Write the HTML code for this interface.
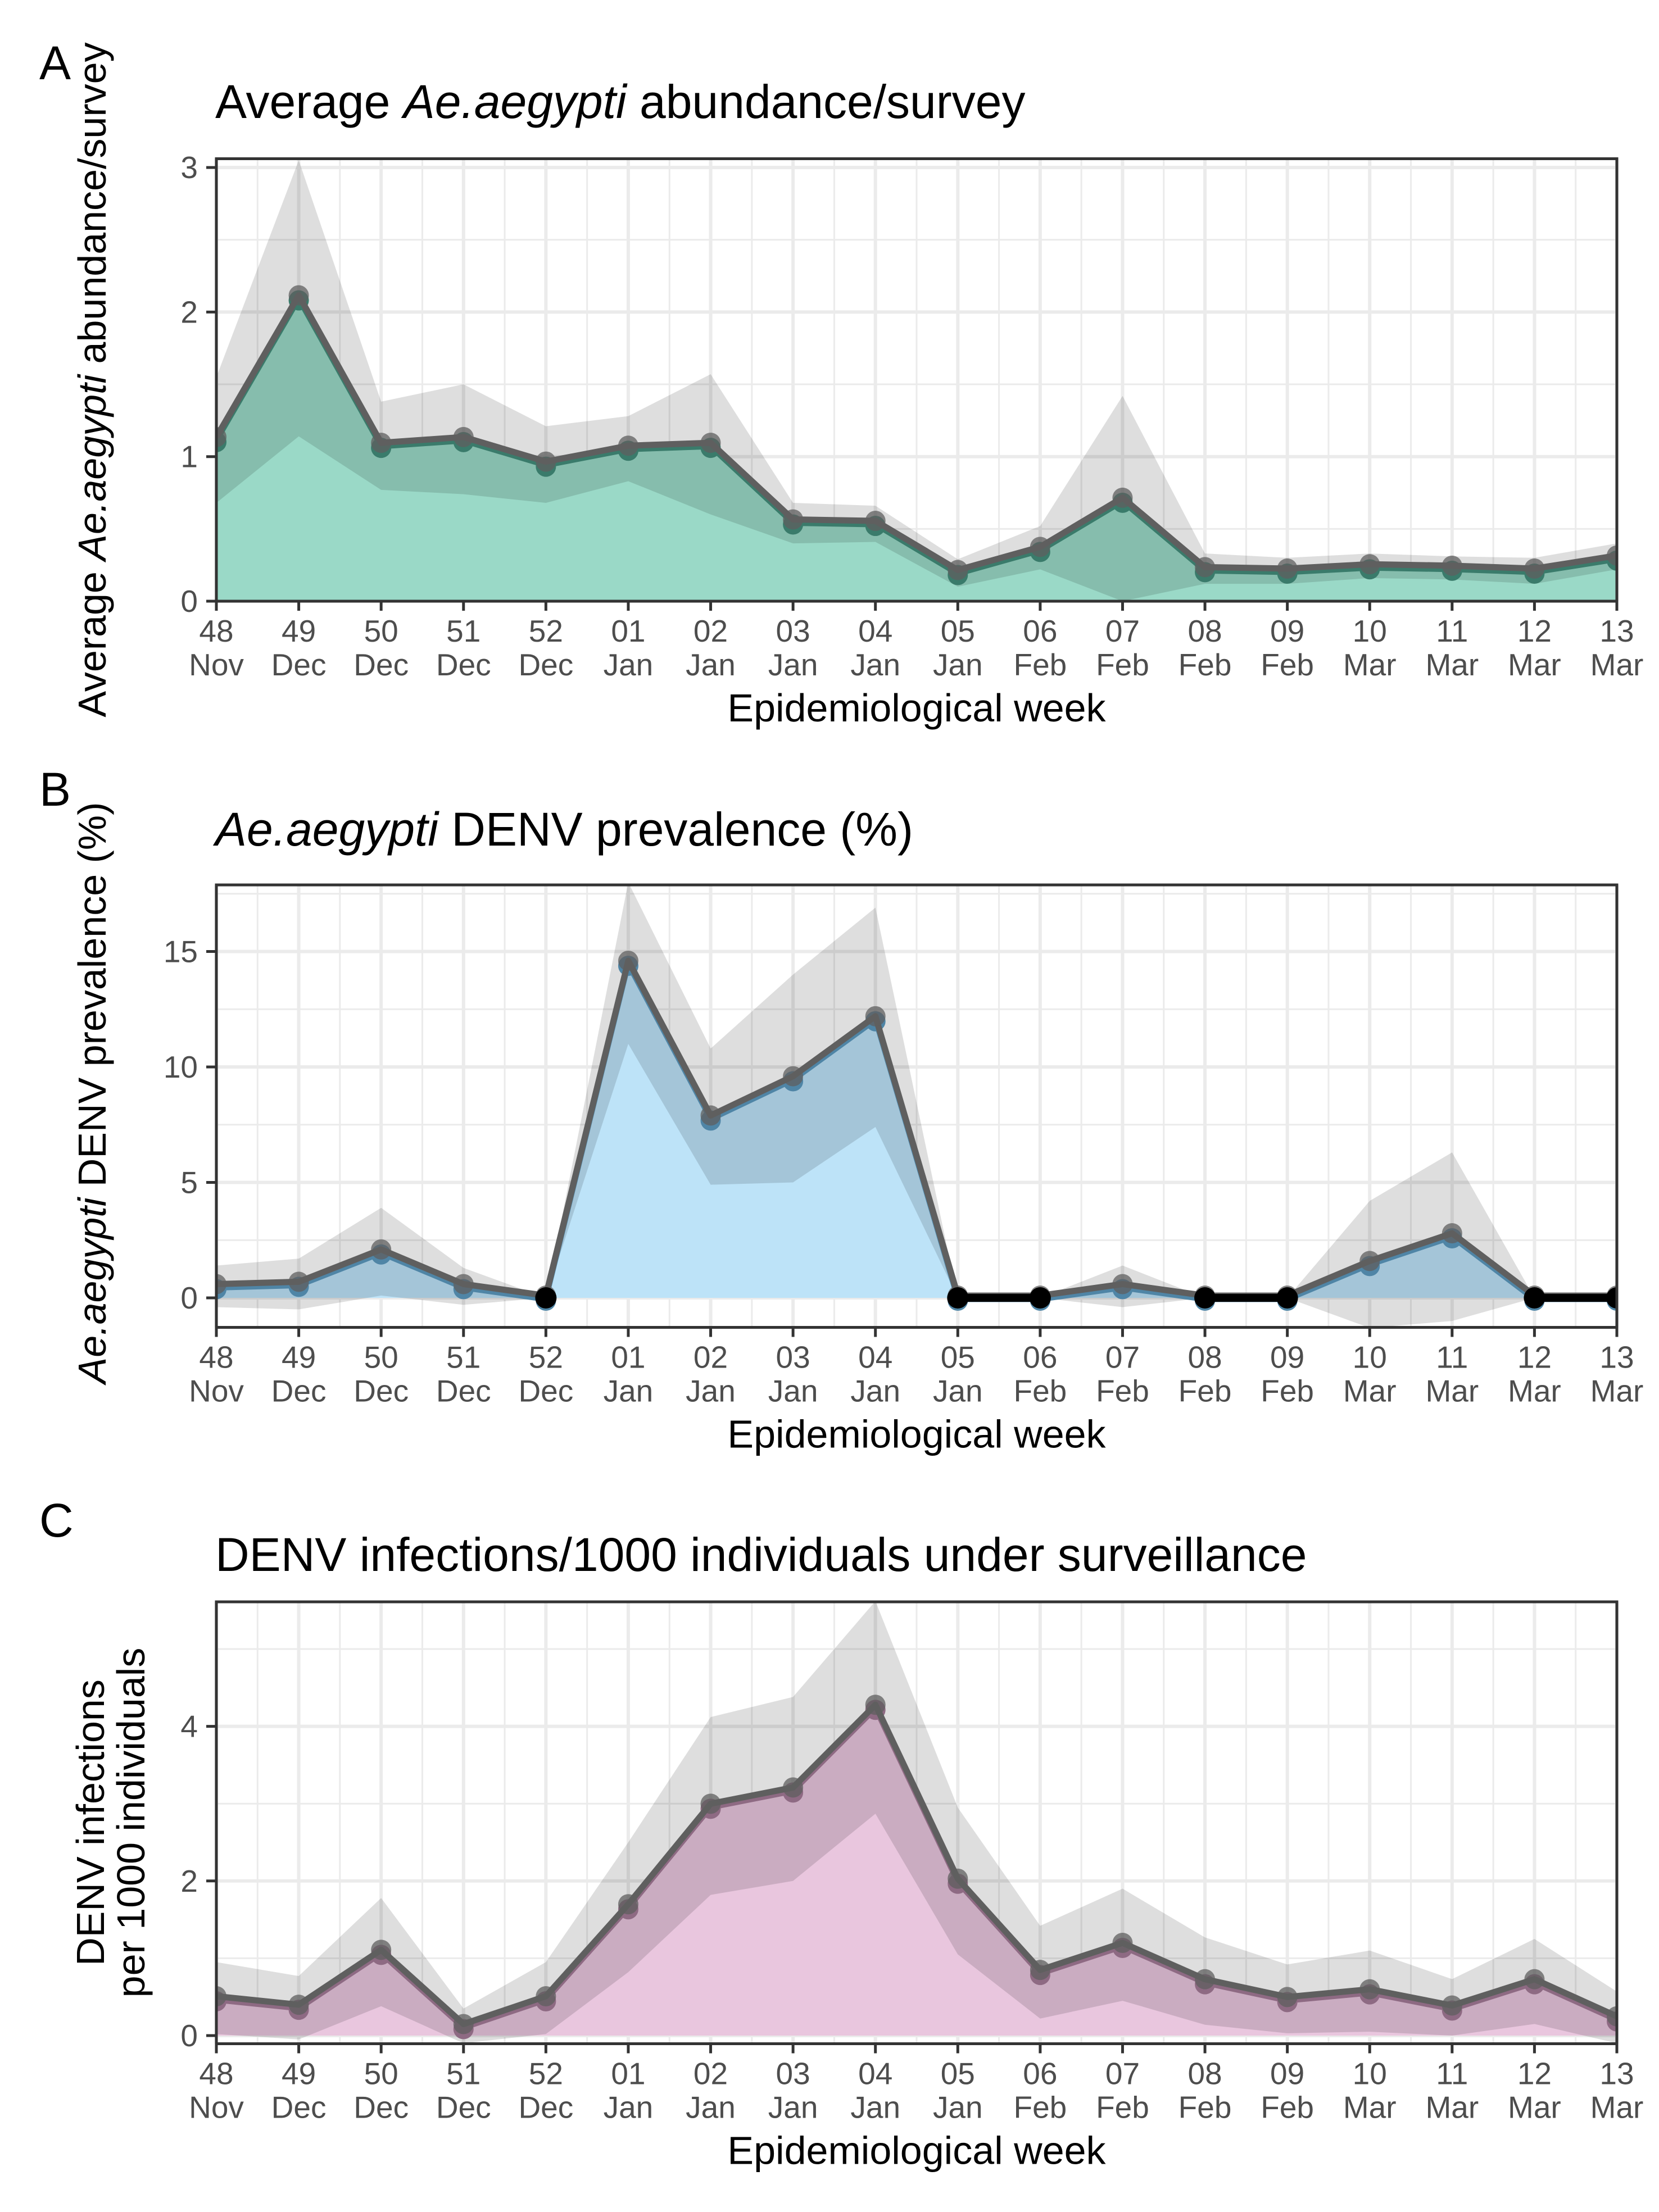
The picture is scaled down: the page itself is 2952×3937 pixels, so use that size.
<!DOCTYPE html>
<html><head><meta charset="utf-8"><style>
html,body{margin:0;padding:0;background:#fff}
svg{display:block}
text{font-family:"Liberation Sans",Arial,sans-serif}
</style></head><body>
<svg id="fig" xmlns="http://www.w3.org/2000/svg" width="2952" height="3937" viewBox="0 0 2952 3937"></svg>
<script>
const weeks = ["48","49","50","51","52","01","02","03","04","05","06","07","08","09","10","11","12","13"];
const months = ["Nov","Dec","Dec","Dec","Dec","Jan","Jan","Jan","Jan","Jan","Feb","Feb","Feb","Feb","Mar","Mar","Mar","Mar"];

const aVals  = [1.12,2.10,1.08,1.12,0.95,1.06,1.08,0.55,0.54,0.20,0.36,0.70,0.22,0.21,0.24,0.23,0.21,0.30];
const aUpper = [1.55,3.05,1.38,1.50,1.21,1.28,1.57,0.68,0.66,0.29,0.52,1.42,0.33,0.30,0.33,0.31,0.30,0.40];
const aLower = [0.68,1.14,0.77,0.74,0.68,0.83,0.60,0.40,0.41,0.10,0.22,0.00,0.12,0.12,0.16,0.15,0.12,0.22];
const aTicks = [0,1,2,3];

const bVals  = [0.5,0.6,2.0,0.5,0,14.5,7.8,9.5,12.1,0,0,0.5,0,0,1.5,2.7,0,0];
const bUpper = [1.4,1.7,3.9,1.3,0,18.0,10.8,14.0,16.9,0,0,1.4,0,0,4.2,6.3,0,0];
const bLower = [-0.4,-0.5,0.1,-0.3,0,11.0,4.9,5.0,7.4,0,0,-0.4,0,0,-1.3,-1.0,0,0];
const bTicks = [0,5,10,15];

const cVals  = [0.48,0.37,1.08,0.12,0.48,1.67,2.97,3.18,4.25,2.0,0.82,1.17,0.70,0.47,0.57,0.36,0.70,0.22];
const cUpper = [0.95,0.77,1.78,0.35,0.95,2.5,4.12,4.38,5.62,2.95,1.42,1.90,1.27,0.92,1.10,0.73,1.25,0.57];
const cLower = [0.02,-0.05,0.38,-0.10,0.02,0.82,1.82,2.0,2.87,1.05,0.22,0.45,0.14,0.03,0.05,0.0,0.15,-0.1];
const cTicks = [0,2,4];

const NS="http://www.w3.org/2000/svg";
const svg=document.getElementById('fig');
function mk(tag,attrs,parent){const e=document.createElementNS(NS,tag);for(const k in attrs)e.setAttribute(k,attrs[k]);(parent||svg).appendChild(e);return e;}
const L=385,R=2877;
const xS=i=>L+i*(R-L)/(weeks.length-1);

function panel(o){
  const g=mk('g',{});
  
  
  const yS=v=>o.y0-v*o.ppu;
  const T=o.top,B=o.bottom;
  const clipId=o.name+'-clip';
  const cp=mk('clipPath',{id:clipId},g);mk('rect',{x:L,y:T,width:R-L,height:B-T},cp);
  for(let i=0;i<weeks.length-1;i++){const x=(xS(i)+xS(i+1))/2;mk('line',{x1:x,x2:x,y1:T,y2:B,stroke:'#EBEBEB','stroke-width':3},g);}
  o.minor.forEach(v=>{const y=yS(v);if(y>T&&y<B)mk('line',{x1:L,x2:R,y1:y,y2:y,stroke:'#EBEBEB','stroke-width':3},g);});
  weeks.forEach((w,i)=>{mk('line',{x1:xS(i),x2:xS(i),y1:T,y2:B,stroke:'#EBEBEB','stroke-width':6},g);});
  o.ticks.forEach(v=>{mk('line',{x1:L,x2:R,y1:yS(v),y2:yS(v),stroke:'#EBEBEB','stroke-width':6},g);});
  const dg=mk('g',{'clip-path':'url(#'+clipId+')'},g);
  let d='M'+xS(0)+','+yS(0);o.vals.forEach((v,i)=>d+=' L'+xS(i)+','+yS(v));d+=' L'+xS(o.vals.length-1)+','+yS(0)+'Z';
  const area=mk('path',{d:d,fill:o.fill},dg);
  
  
  let r='';o.upper.forEach((v,i)=>r+=(i?' L':'M')+xS(i)+','+yS(v));
  for(let i=o.lower.length-1;i>=0;i--)r+=' L'+xS(i)+','+yS(o.lower[i]);r+='Z';
  const rib=mk('path',{d:r,fill:'#000','fill-opacity':0.13},dg);
  
  
  // colored line & points (underneath, slightly lower)
  let cl='';o.vals.forEach((v,i)=>cl+=(i?' L':'M')+xS(i)+','+(yS(v)+3));
  const ln=mk('path',{d:cl,fill:'none',stroke:o.line,'stroke-width':9,'stroke-linejoin':'round'},dg);
  
  
  o.vals.forEach((v,i)=>{
    const c=mk('circle',{cx:xS(i),cy:yS(v)+5,r:18,fill:o.line},dg);
    
    
  });
  // gray line & points on top
  let gl='';o.vals.forEach((v,i)=>gl+=(i?' L':'M')+xS(i)+','+(yS(v)-4));
  mk('path',{d:gl,fill:'none',stroke:'#5f5f5f','stroke-width':11,'stroke-linejoin':'round'},dg);
  o.vals.forEach((v,i)=>{mk('circle',{cx:xS(i),cy:yS(v)-4,r:18,fill:'#5f5f5f','fill-opacity':0.75},dg);});
  if(o.zeroBlack){
    for(let i=0;i<o.vals.length-1;i++) if(o.vals[i]===0&&o.vals[i+1]===0)
      mk('line',{x1:xS(i),x2:xS(i+1),y1:yS(0),y2:yS(0),stroke:'#000','stroke-width':14},dg);
    o.vals.forEach((v,i)=>{if(v===0)mk('circle',{cx:xS(i),cy:yS(0),r:19,fill:'#000'},dg);});
  }
  mk('rect',{x:L,y:T,width:R-L,height:B-T,fill:'none',stroke:'#333','stroke-width':5},g);
  o.ticks.forEach(v=>{
    const y=yS(v);
    mk('line',{x1:367,x2:L,y1:y,y2:y,stroke:'#333','stroke-width':5},g);
    const t=mk('text',{x:352,y:y+19,'text-anchor':'end','font-size':55,fill:'#4D4D4D'},g);t.textContent=v;
    
    
  });
  weeks.forEach((w,i)=>{
    const x=xS(i);
    mk('line',{x1:x,x2:x,y1:B,y2:B+17,stroke:'#333','stroke-width':5},g);
    const t1=mk('text',{x:x,y:B+72,'text-anchor':'middle','font-size':55,fill:'#4D4D4D'},g);t1.textContent=w;
    
    
    const t2=mk('text',{x:x,y:B+132,'text-anchor':'middle','font-size':55,fill:'#4D4D4D'},g);t2.textContent=months[i];
    
    
  });
  const xt=mk('text',{x:(L+R)/2,y:B+214,'text-anchor':'middle','font-size':70,fill:'#000'},g);xt.textContent='Epidemiological week';
  
  
  const pl=mk('text',{x:70,y:o.labelY,'font-size':84,fill:'#000'},g);pl.textContent=o.letter;
  
  
  return g;
}

function styledText(parent,attrs,parts,name){
  const t=mk('text',attrs,parent);
  
  
  parts.forEach(p=>{const s=mk('tspan',p[1]?{'font-style':'italic'}:{},t);s.textContent=p[0];});
  return t;
}

panel({name:'panel-a',letter:'A',labelY:141,top:282.5,bottom:1070,y0:1070,ppu:257.3,vals:aVals,upper:aUpper,lower:aLower,ticks:aTicks,minor:[0.5,1.5,2.5],fill:'#9AD9C7',line:'#3A7B6B'});
panel({name:'panel-b',letter:'B',labelY:1434,top:1575,bottom:2362.5,y0:2310,ppu:41.1,vals:bVals,upper:bUpper,lower:bLower,ticks:bTicks,minor:[2.5,7.5,12.5,17.5],fill:'#BDE3F8',line:'#4F85A6',zeroBlack:true});
panel({name:'panel-c',letter:'C',labelY:2735,top:2851,bottom:3637.5,y0:3623,ppu:137.6,vals:cVals,upper:cUpper,lower:cLower,ticks:cTicks,minor:[1,3,5],fill:'#E9C6DE',line:'#8E6A83'});

styledText(svg,{x:383,y:210,'font-size':84,fill:'#000'},[['Average ',0],['Ae.aegypti',1],[' abundance/survey',0]],'panel-a-title');
styledText(svg,{x:383,y:1505,'font-size':84,fill:'#000'},[['Ae.aegypti',1],[' DENV prevalence (%)',0]],'panel-b-title');
styledText(svg,{x:383,y:2796,'font-size':84,fill:'#000'},[['DENV infections/1000 individuals under surveillance',0]],'panel-c-title');

styledText(svg,{x:0,y:0,'font-size':70,fill:'#000','text-anchor':'middle',transform:'translate(188,676) rotate(-90)'},[['Average ',0],['Ae.aegypti',1],[' abundance/survey',0]],'y-axis-title-a');
styledText(svg,{x:0,y:0,'font-size':70,fill:'#000','text-anchor':'middle',transform:'translate(188,1945) rotate(-90)'},[['Ae.aegypti',1],[' DENV prevalence (%)',0]],'y-axis-title-b');
styledText(svg,{x:0,y:0,'font-size':70,fill:'#000','text-anchor':'middle',transform:'translate(185,3244) rotate(-90)'},[['DENV infections',0]],'y-axis-title-c-line1');
styledText(svg,{x:0,y:0,'font-size':70,fill:'#000','text-anchor':'middle',transform:'translate(257,3244) rotate(-90)'},[['per 1000 individuals',0]],'y-axis-title-c-line2');
</script>
</body></html>
